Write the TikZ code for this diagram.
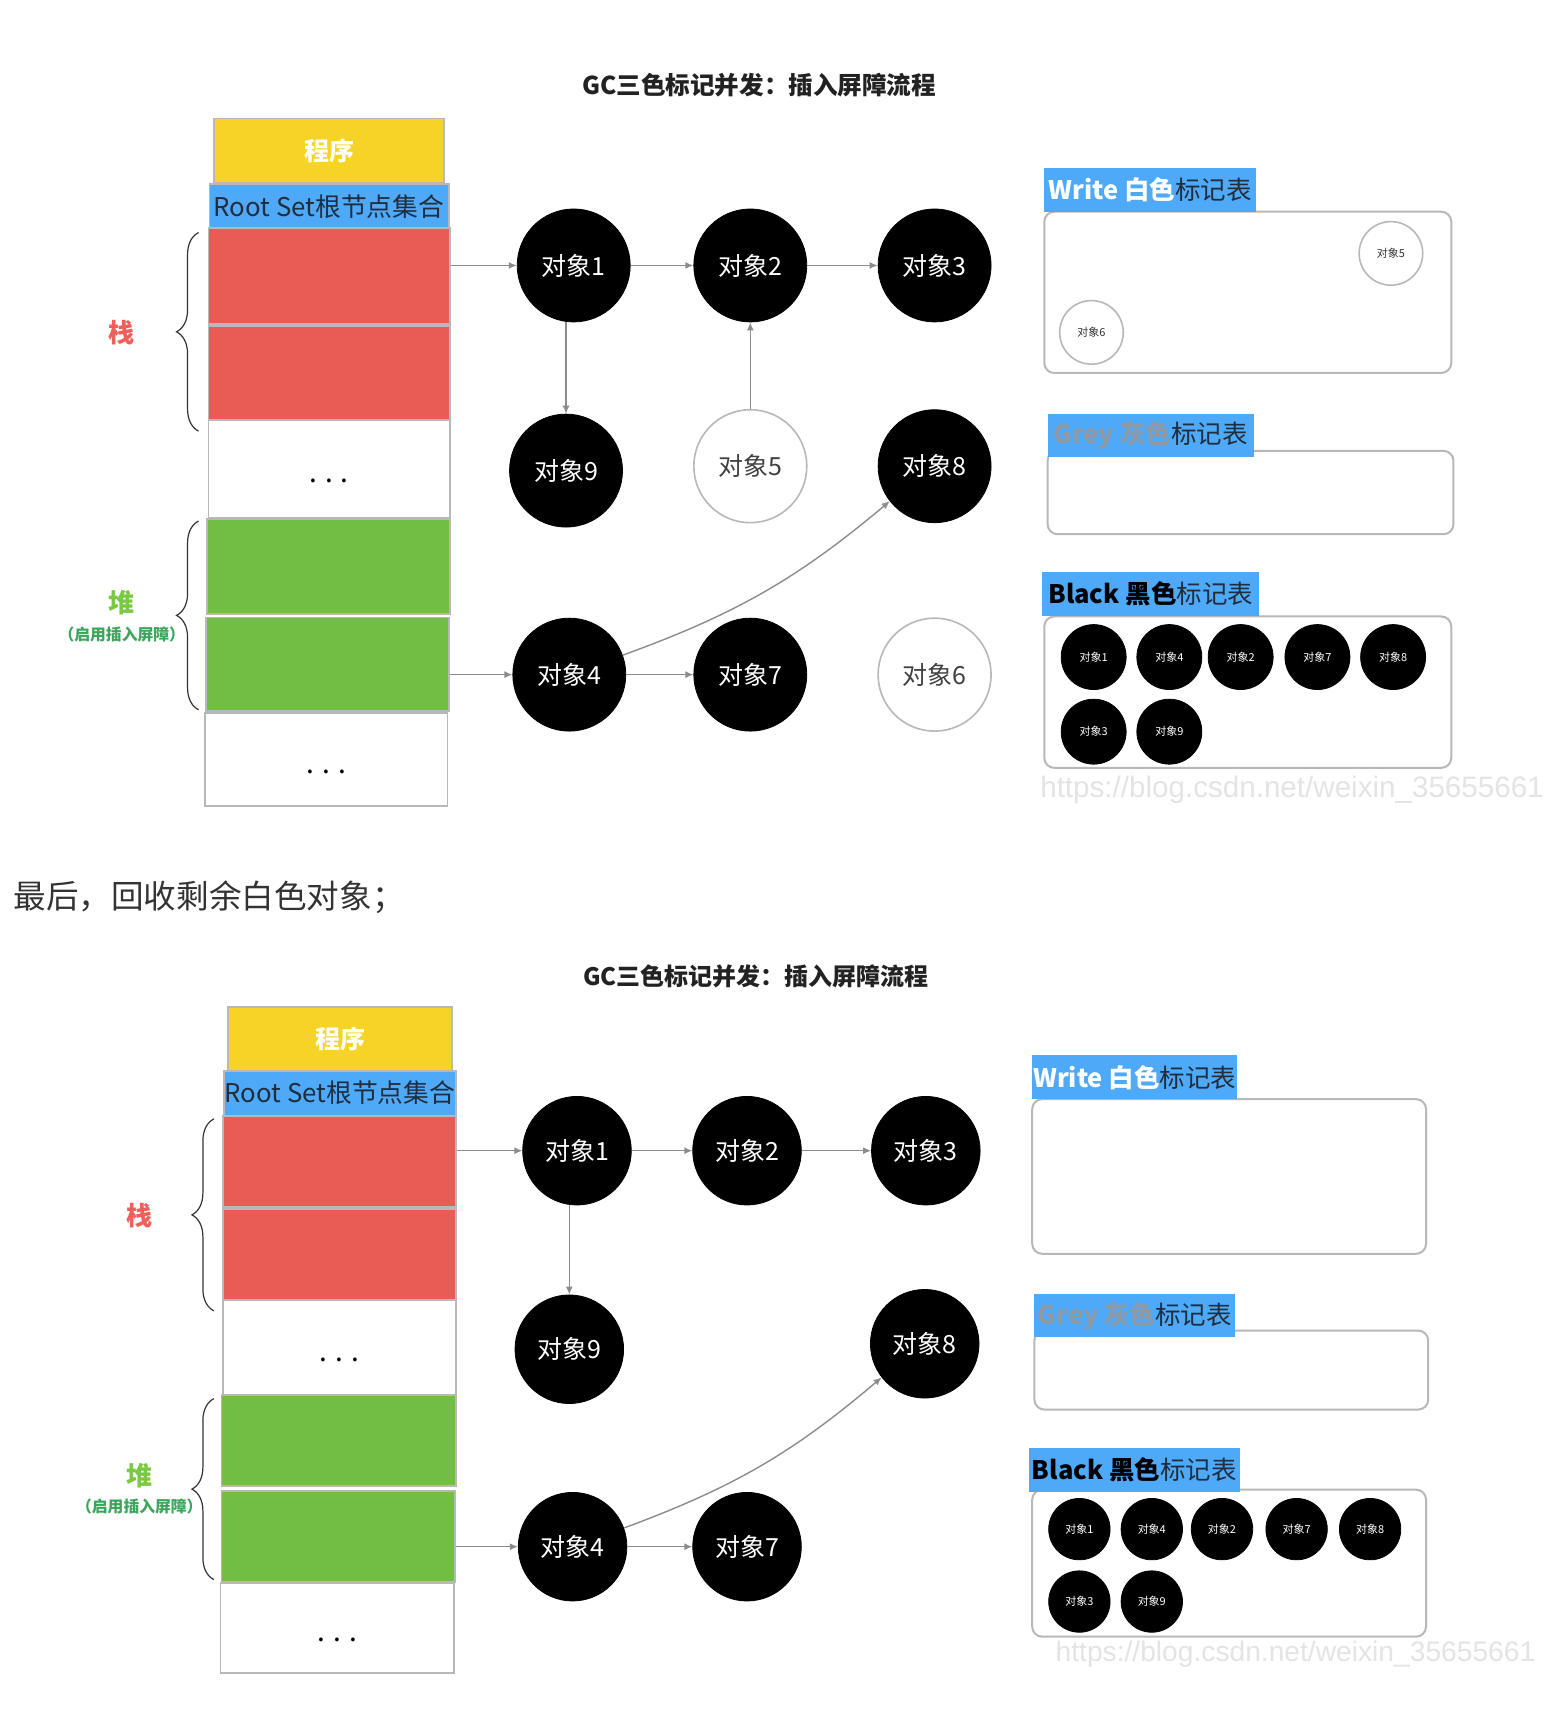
\documentclass[tikz,border=0pt]{standalone}
\usepackage{fontspec}
\setmainfont{Noto Sans CJK SC}
\newfontfamily\wmfont{Liberation Sans}
\usetikzlibrary{arrows.meta,fit,decorations.pathreplacing}
\definecolor{ygold}{HTML}{F5D327}
\definecolor{rootblue}{HTML}{4FA9F9}
\definecolor{stackred}{HTML}{E95B55}
\definecolor{heapgreen}{HTML}{72BE44}
\definecolor{bordergray}{HTML}{B8B8B8}
\definecolor{arrgray}{HTML}{8C8C8C}
\definecolor{labeldark}{HTML}{1F2D3D}
\definecolor{greytxt}{HTML}{8E9AA6}
\definecolor{stacklbl}{HTML}{F0605A}
\definecolor{heaplbl}{HTML}{7AC943}
\definecolor{heapsub}{HTML}{3BA55C}
\definecolor{wmgray}{HTML}{E4E4E4}
\definecolor{titlegray}{HTML}{222222}
\begin{document}
\begin{tikzpicture}[x=0.5486pt,y=-0.5486pt,
  box/.style={draw=bordergray, line width=0.9pt, inner sep=0pt},
  progbox/.style={box, fill=ygold},
  progtxt/.style={text=white, font=\fontsize{12.5}{14}\selectfont\bfseries},
  rootbox/.style={box, fill=rootblue},
  roottxt/.style={text=labeldark, font=\fontsize{12.9}{14}\selectfont},
  redbox/.style={box, fill=stackred},
  greenbox/.style={box, fill=heapgreen},
  dotbox/.style={box, fill=white},
  dottxt/.style={font=\fontsize{14}{14}\selectfont, yshift=-6pt},
  bobj/.style={circle, fill=black, draw=black, inner sep=0pt, text=white, font=\fontsize{12.5}{14}\selectfont},
  wobj/.style={circle, fill=white, draw=bordergray, line width=0.8pt, inner sep=0pt, text=black!75, font=\fontsize{12.5}{14}\selectfont},
  sbobj/.style={circle, fill=black, draw=black, inner sep=0pt, text=white, font=\fontsize{5.5}{6}\selectfont},
  swobj/.style={circle, fill=white, draw=bordergray, line width=0.8pt, inner sep=0pt, text=black!80, font=\fontsize{5.5}{6}\selectfont},
  tablebox/.style={draw=bordergray, line width=1pt, rounded corners=5pt, fill=white, inner sep=0pt},
  tablelbl/.style={fill=rootblue, inner sep=0pt},
  tabletxt/.style={inner sep=0pt, font=\fontsize{12.75}{14}\selectfont},
  arr/.style={draw=arrgray, line width=0.7pt, -{Latex[length=4pt,width=3.5pt]}},
  brc/.style={draw=black!80, line width=0.6pt, decorate, decoration={brace, amplitude=11pt}},
  ttl/.style={font=\fontsize{12.3}{14}\selectfont\bfseries, text=titlegray},
  stklbl/.style={font=\fontsize{13}{14}\selectfont\bfseries, text=stacklbl},
  heaplbltext/.style={font=\fontsize{13}{14}\selectfont\bfseries, text=heaplbl},
  heapsubtext/.style={font=\fontsize{7.9}{9}\selectfont\bfseries, text=heapsub},
  wm/.style={anchor=west, inner sep=0pt, font=\wmfont\fontsize{14.8}{16}\selectfont, text=wmgray}
]
\useasboundingbox[fill=white] (0,0) rectangle (1409,1568);

% ================= TOP DIAGRAM =================
\node[ttl] (t1) at (692,78) {GC三色标记并发：插入屏障流程};

\node[progbox, fit={(195,108) (405,167)}] (ap) {};
\node[progtxt] (apt) at (ap.center) {程序};
\node[rootbox, fit={(191,168) (409,208)}] (ar) {};
\node[roottxt] (art) at (ar.center) {Root Set根节点集合};
\node[redbox, fit={(190,208) (410,295)}] (ar1) {};
\node[redbox, fit={(190,297) (410,383)}] (ar2) {};
\node[dotbox, fit={(190,383) (410,472)}] (ad1) {};
\node[dottxt] (ad1t) at (ad1.center) {.\hspace{4pt}.\hspace{4pt}.};
\node[greenbox, fit={(189,473) (410,560)}] (ag1) {};
\node[greenbox, fit={(188,563) (409,648)}] (ag2) {};
\node[dotbox, fit={(187,650) (408,735)}] (ad2) {};
\node[dottxt] (ad2t) at (ad2.center) {.\hspace{4pt}.\hspace{4pt}.};

\coordinate (abs1) at (181,393);
\coordinate (abs2) at (181,212);
\draw[brc] (abs1) -- (abs2);
\node[stklbl] (aslbl) at (111,303) {栈};
\coordinate (abh1) at (181,647);
\coordinate (abh2) at (181,475);
\draw[brc] (abh1) -- (abh2);
\node[heaplbltext] (ahlbl) at (111,549) {堆};
\node[heapsubtext] (ahsub) at (111,578) {（启用插入屏障）};

\begin{scope}[every node/.append style={minimum size=56.5pt}]
\node[bobj] (ao1) at (523,242) {对象1};
\node[bobj] (ao2) at (684,242) {对象2};
\node[bobj] (ao3) at (852,242) {对象3};
\node[bobj] (ao9) at (516,429) {对象9};
\node[wobj] (ao5) at (684,425) {对象5};
\node[bobj] (ao8) at (852,425) {对象8};
\node[bobj] (ao4) at (519,615) {对象4};
\node[bobj] (ao7) at (684,615) {对象7};
\node[wobj] (ao6) at (852,615) {对象6};
\end{scope}

\draw[arr] (ao1 -| ar1.east) -- (ao1.west);
\draw[arr] (ao1) -- (ao2);
\draw[arr] (ao2) -- (ao3);
\draw[arr] (ao9 |- ao1.south) -- (ao9.north);
\draw[arr] (ao5) -- (ao2);
\draw[arr] (ao4 -| ag2.east) -- (ao4.west);
\draw[arr] (ao4) -- (ao7);
\draw[arr] (ao4.20) to[bend right=10] (ao8.218);

% tables top
\node[tablebox, fit={(952,193) (1323,340)}] (awb) {};
\node[tablelbl, fit={(952,153) (1145,193)}] (awl) {};
\node[tabletxt] (awlt) at (awl.center) {{\bfseries\color{white}Write 白色}{\color{labeldark}标记表}};
\node[swobj, minimum size=31.8pt] (aw5) at (1268,231) {对象5};
\node[swobj, minimum size=31.8pt] (aw6) at (995,303) {对象6};

\node[tablebox, fit={(955,411) (1325,487)}] (agb) {};
\node[tablelbl, fit={(955,377) (1143,417)}] (agl) {};
\node[tabletxt] (aglt) at (agl.center) {{\bfseries\color{greytxt}Grey 灰色}{\color{labeldark}标记表}};

\node[tablebox, fit={(952,562) (1323,700)}] (abb) {};
\node[tablelbl, fit={(950,521) (1148,562)}] (abl) {};
\node[tabletxt] (ablt) at (abl.center) {{\bfseries\color{black}Black 黑色}{\color{labeldark}标记表}};
\begin{scope}[every node/.append style={minimum size=32.5pt}]
\node[sbobj] (ab1) at (997,599) {对象1};
\node[sbobj] (ab4) at (1066,599) {对象4};
\node[sbobj] (ab2) at (1131,599) {对象2};
\node[sbobj] (ab7) at (1201,599) {对象7};
\node[sbobj] (ab8) at (1270,599) {对象8};
\node[sbobj] (ab3) at (997,667) {对象3};
\node[sbobj] (ab9) at (1066,667) {对象9};
\end{scope}
\node[wm] (awm) at (948,720) {https://blog.csdn.net/weixin\_35655661};

% ================= MIDDLE TEXT =================
\node[anchor=west, inner sep=0pt, font=\fontsize{16.3}{18}\selectfont, text=black!80] (mid) at (12,818) {最后，回收剩余白色对象；};

% ================= BOTTOM DIAGRAM =================
\node[ttl, font=\fontsize{12}{14}\selectfont\bfseries] (t2) at (689,890) {GC三色标记并发：插入屏障流程};

\node[progbox, fit={(208,918) (412,976)}] (bp) {};
\node[progtxt] (bpt) at (bp.center) {程序};
\node[rootbox, fit={(204,976) (416,1017)}] (br) {};
\node[roottxt] (brt) at (br.center) {Root Set根节点集合};
\node[redbox, fit={(203,1017) (416,1100)}] (br1) {};
\node[redbox, fit={(203,1102) (416,1185)}] (br2) {};
\node[dotbox, fit={(203,1185) (416,1272)}] (bd1) {};
\node[dottxt] (bd1t) at (bd1.center) {.\hspace{4pt}.\hspace{4pt}.};
\node[greenbox, fit={(202,1272) (416,1355)}] (bg1) {};
\node[greenbox, fit={(202,1359) (415,1442)}] (bg2) {};
\node[dotbox, fit={(201,1443) (414,1525)}] (bd2) {};
\node[dottxt] (bd2t) at (bd2.center) {.\hspace{4pt}.\hspace{4pt}.};

\coordinate (bbs1) at (195,1195);
\coordinate (bbs2) at (195,1020);
\draw[brc] (bbs1) -- (bbs2);
\node[stklbl] (bslbl) at (127,1108) {栈};
\coordinate (bbh1) at (195,1440);
\coordinate (bbh2) at (195,1275);
\draw[brc] (bbh1) -- (bbh2);
\node[heaplbltext] (bhlbl) at (127,1345) {堆};
\node[heapsubtext] (bhsub) at (127,1373) {（启用插入屏障）};

\begin{scope}[every node/.append style={minimum size=54.3pt}]
\node[bobj] (bo1) at (526,1049) {对象1};
\node[bobj] (bo2) at (681,1049) {对象2};
\node[bobj] (bo3) at (844,1049) {对象3};
\node[bobj] (bo9) at (519,1230) {对象9};
\node[bobj] (bo8) at (843,1225) {对象8};
\node[bobj] (bo4) at (522,1410) {对象4};
\node[bobj] (bo7) at (681,1410) {对象7};
\end{scope}

\draw[arr] (bo1 -| br1.east) -- (bo1.west);
\draw[arr] (bo1) -- (bo2);
\draw[arr] (bo2) -- (bo3);
\draw[arr] (bo9 |- bo1.south) -- (bo9.north);
\draw[arr] (bo4 -| bg2.east) -- (bo4.west);
\draw[arr] (bo4) -- (bo7);
\draw[arr] (bo4.20) to[bend right=10] (bo8.218);

% tables bottom
\node[tablebox, fit={(941,1002) (1300,1143)}] (bwb) {};
\node[tablelbl, fit={(941,962) (1128,1002)}] (bwl) {};
\node[tabletxt] (bwlt) at (bwl.center) {{\bfseries\color{white}Write 白色}{\color{labeldark}标记表}};

\node[tablebox, fit={(943,1213) (1302,1285)}] (bgb) {};
\node[tablelbl, fit={(943,1180) (1126,1219)}] (bgl) {};
\node[tabletxt] (bglt) at (bgl.center) {{\bfseries\color{greytxt}Grey 灰色}{\color{labeldark}标记表}};

\node[tablebox, fit={(941,1358) (1300,1492)}] (bbb) {};
\node[tablelbl, fit={(938,1320) (1130,1360)}] (bbl) {};
\node[tabletxt] (bblt) at (bbl.center) {{\bfseries\color{black}Black 黑色}{\color{labeldark}标记表}};
\begin{scope}[every node/.append style={minimum size=30.7pt}]
\node[sbobj] (bb1) at (984,1394) {对象1};
\node[sbobj] (bb4) at (1050,1394) {对象4};
\node[sbobj] (bb2) at (1114,1394) {对象2};
\node[sbobj] (bb7) at (1182,1394) {对象7};
\node[sbobj] (bb8) at (1249,1394) {对象8};
\node[sbobj] (bb3) at (984,1460) {对象3};
\node[sbobj] (bb9) at (1050,1460) {对象9};
\end{scope}
\node[wm, font=\wmfont\fontsize{14.1}{16}\selectfont] (bwm) at (962,1508) {https://blog.csdn.net/weixin\_35655661};
\end{tikzpicture}
\end{document}
